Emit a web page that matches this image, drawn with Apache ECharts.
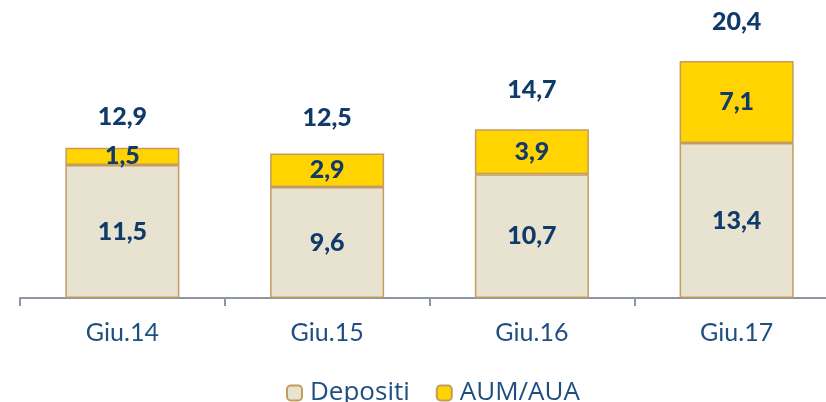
<!DOCTYPE html>
<html>
<head>
<meta charset="utf-8">
<script src="https://cdn.jsdelivr.net/npm/echarts@6/dist/echarts.min.js"></script>
<style>
  html, body { margin: 0; padding: 0; background: #ffffff; overflow: hidden; }
  /* the plot runs past the right edge of the window, so the canvas is wider */
  #chart { width: 840px; height: 402px; }
</style>
</head>
<body>
<div id="chart"></div>
<script>
// Period labels and values (billions of euro)
const categories = ['Giu.14', 'Giu.15', 'Giu.16', 'Giu.17'];
const depositi = [11.5, 9.6, 10.7, 13.4];
const aumAua = [1.5, 2.9, 3.9, 7.1];
const totals = [12.9, 12.5, 14.7, 20.4];

// Vertical lift of each total label above its stack (px)
const totalLift = [32, 36, 38, 40];

const navy = '#0f3a6a';
const fmt = v => String(v).replace('.', ',');
const numFont = { fontFamily: 'Lato', fontWeight: 900, fontSize: 25, color: navy };

const chart = echarts.init(document.getElementById('chart'), null, { renderer: 'canvas' });

chart.setOption({
  animation: false,
  backgroundColor: '#ffffff',
  grid: { left: 20, right: 1, top: 9, bottom: 104 },
  legend: {
    data: ['Depositi', 'AUM/AUA'],
    top: 375,
    left: 281,
    itemWidth: 15,
    itemHeight: 15,
    itemGap: 26,
    textStyle: { fontFamily: 'Open Sans', fontSize: 26, color: '#1f4e80', padding: [0, 0, 0, 3] }
  },
  xAxis: {
    type: 'category',
    data: categories,
    axisLine: { lineStyle: { color: '#8d94a6', width: 2 } },
    axisTick: { show: true, length: 8, lineStyle: { color: '#8d94a6', width: 2 } },
    axisLabel: { margin: 22, fontFamily: 'Lato', fontSize: 25, color: '#1f4e80' }
  },
  yAxis: {
    type: 'value',
    min: 0,
    max: 25,
    show: false
  },
  series: [
    {
      name: 'Depositi',
      type: 'bar',
      stack: 'tot',
      barWidth: '55.7%',
      data: depositi,
      itemStyle: { color: '#e8e2d1', borderColor: '#c49c5e', borderWidth: 1.5 },
      label: { show: true, position: 'inside', formatter: p => fmt(p.value), ...numFont }
    },
    {
      name: 'AUM/AUA',
      type: 'bar',
      stack: 'tot',
      barWidth: '55.7%',
      data: aumAua,
      itemStyle: { color: '#ffd400', borderColor: '#c49c5e', borderWidth: 1.5 },
      label: { show: true, position: 'inside', formatter: p => fmt(p.value), ...numFont }
    },
    {
      name: 'Totale',
      type: 'scatter',
      symbolSize: 1,
      silent: true,
      itemStyle: { opacity: 1, color: 'rgba(0,0,0,0)' },
      data: totals.map((v, i) => ({
        value: v,
        label: { offset: [0, -totalLift[i]] }
      })),
      label: { show: true, position: 'inside', formatter: p => fmt(p.value), ...numFont }
    }
  ]
});
</script>
</body>
</html>
